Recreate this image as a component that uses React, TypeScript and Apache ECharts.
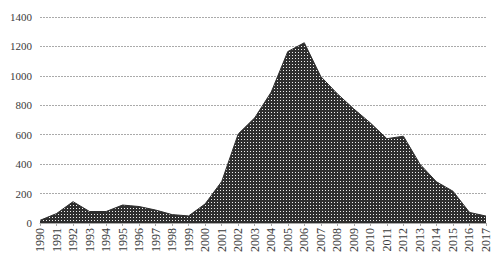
import React, { useEffect, useRef } from "react";
import * as echarts from "echarts";

const years = [
  "1990", "1991", "1992", "1993", "1994", "1995", "1996", "1997", "1998", "1999",
  "2000", "2001", "2002", "2003", "2004", "2005", "2006", "2007", "2008", "2009",
  "2010", "2011", "2012", "2013", "2014", "2015", "2016", "2017",
];
const values = [
  18, 64, 145, 78, 78, 122, 112, 88, 57, 48,
  130, 282, 605, 715, 890, 1165, 1225, 995, 878, 775,
  680, 573, 590, 400, 280, 216, 72, 47,
];
const yMin = 0;
const yMax = 1400;
const yStep = 200;

function makePattern(): HTMLCanvasElement {
  const c = document.createElement("canvas");
  c.width = 3;
  c.height = 3;
  const ctx = c.getContext("2d")!;
  ctx.fillStyle = "#2e2e2e";
  ctx.fillRect(0, 0, 3, 3);
  ctx.fillStyle = "#f0f0f0";
  ctx.fillRect(1, 1, 1, 1);
  return c;
}

export default function App() {
  const ref = useRef<HTMLDivElement>(null);
  useEffect(() => {
    if (!ref.current) return;
    const chart = echarts.init(ref.current, null, { renderer: "svg" });
    const font = "Liberation Serif";
    const pattern = makePattern();
    chart.setOption({
      animation: false,
      grid: { left: 40, right: 14, top: 17, bottom: 38, containLabel: false },
      xAxis: {
        type: "category",
        data: years,
        boundaryGap: false,
        axisLine: { show: true, lineStyle: { color: "#aaa", width: 1 } },
        axisTick: { show: true, alignWithLabel: true, length: 3, lineStyle: { color: "#aaa" } },
        axisLabel: {
          rotate: 90,
          interval: 0,
          margin: 5,
          fontFamily: font,
          fontSize: 12,
          color: "#3a3a3a",
        },
        splitLine: { show: false },
      },
      yAxis: {
        type: "value",
        min: yMin,
        max: yMax,
        interval: yStep,
        axisLine: { show: false },
        axisTick: { show: false },
        axisLabel: {
          margin: 8,
          fontFamily: font,
          fontSize: 11,
          color: "#3a3a3a",
          formatter: (v: number) => String(v),
        },
        splitLine: { show: true, lineStyle: { color: "#aaa", type: [2, 1], width: 1 } },
      },
      series: [
        {
          type: "line",
          data: values,
          symbol: "none",
          smooth: false,
          lineStyle: { color: "#2e2e2e", width: 1 },
          itemStyle: { color: "#2e2e2e" },
          areaStyle: {
            color: { image: pattern, repeat: "repeat" },
            opacity: 1,
          },
        },
      ],
    });
    return () => chart.dispose();
  }, []);
  return (
    <div
      ref={ref}
      style={{ position: "absolute", left: 0, top: 0, width: 500, height: 261 }}
    />
  );
}
